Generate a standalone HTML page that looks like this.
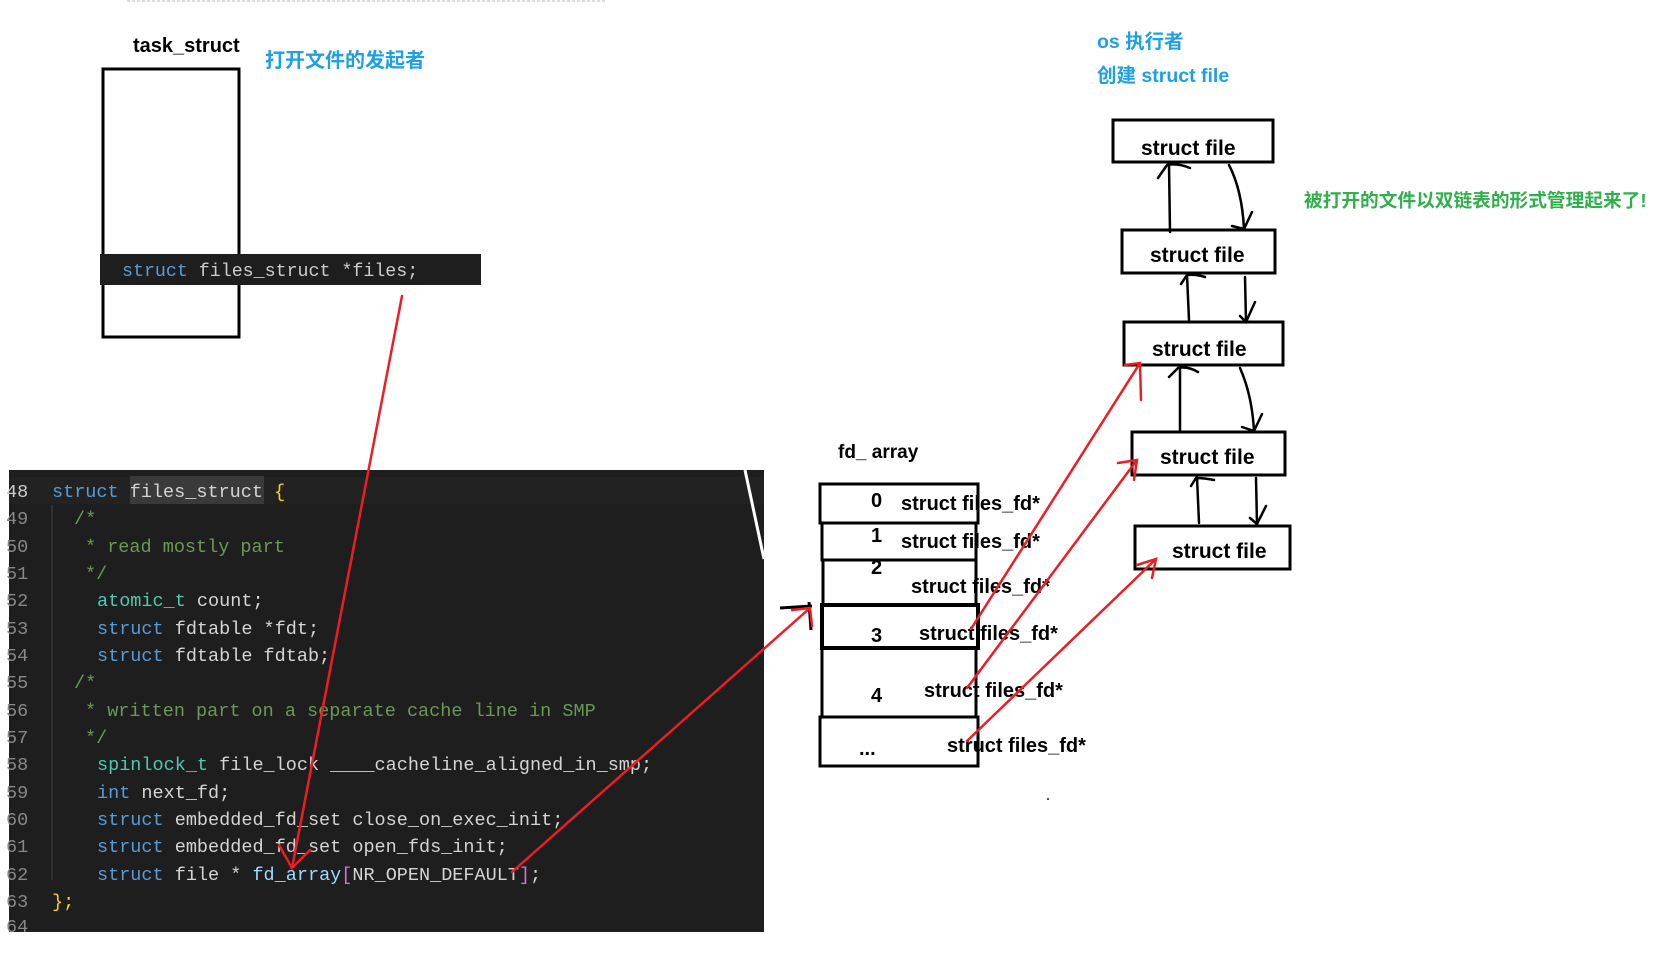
<!DOCTYPE html>
<html><head><meta charset="utf-8"><style>
html,body{margin:0;padding:0;background:#fff;}
svg{display:block;}
.mono{font-family:"Liberation Mono","DejaVu Sans Mono",monospace;}
.sans{font-family:"Liberation Sans","Noto Sans CJK SC",sans-serif;font-weight:bold;}
</style></head><body>
<svg width="1676" height="957" viewBox="0 0 1676 957" xmlns="http://www.w3.org/2000/svg">
<line x1="127" y1="1" x2="607" y2="1" stroke="#bbb" stroke-dasharray="3,2" stroke-width="1"/>
<text x="133" y="52" class="sans" font-size="20" fill="#000">task_struct</text>
<text x="265" y="67" class="sans" font-size="20" fill="#1e9fe6">打开文件的发起者</text>
<rect x="103" y="69" width="136" height="268" fill="none" stroke="#000" stroke-width="3"/>
<rect x="100" y="254" width="381" height="31" fill="#1e1e1e"/>
<text x="122" y="276" class="mono" font-size="18.3" fill="#ccc" xml:space="preserve"><tspan fill="#569cd6">struct</tspan> files_struct *files;</text>

<text x="1097" y="48" class="sans" font-size="19.5" fill="#1e9fe6">os 执行者</text>
<text x="1097" y="82" class="sans" font-size="19.5" fill="#1e9fe6">创建 struct file</text>
<text x="1304" y="207" class="sans" font-size="18.7" fill="#2fb04a">被打开的文件以双链表的形式管理起来了!</text>

<!-- code box -->
<rect x="9" y="470" width="755" height="462" fill="#1e1e1e"/>
<rect x="9" y="477" width="755" height="27" fill="#222"/>
<line x1="52" y1="505" x2="52" y2="880" stroke="#444" stroke-width="1"/>
<line x1="745" y1="470" x2="764" y2="559" stroke="#fff" stroke-width="3"/>
<g class="mono" font-size="18.5" fill="#d4d4d4" xml:space="preserve">
<text x="6" y="497" fill="#ccc">48</text>
<text x="6" y="524" fill="#888">49</text>
<text x="6" y="552" fill="#888">50</text>
<text x="6" y="579" fill="#888">51</text>
<text x="6" y="606" fill="#888">52</text>
<text x="6" y="634" fill="#888">53</text>
<text x="6" y="661" fill="#888">54</text>
<text x="6" y="688" fill="#888">55</text>
<text x="6" y="716" fill="#888">56</text>
<text x="6" y="743" fill="#888">57</text>
<text x="6" y="770" fill="#888">58</text>
<text x="6" y="798" fill="#888">59</text>
<text x="6" y="825" fill="#888">60</text>
<text x="6" y="852" fill="#888">61</text>
<text x="6" y="880" fill="#888">62</text>
<text x="6" y="907" fill="#888">63</text>
<text x="6" y="932" fill="#888">64</text>
<rect x="130" y="476" width="134" height="28" fill="#3a3a3a"/>
<text x="52" y="497"><tspan fill="#569cd6">struct</tspan> files_struct <tspan fill="#ffd700">{</tspan></text>
<text x="74" y="524" fill="#6a9955">/*</text>
<text x="85" y="552" fill="#6a9955">* read mostly part</text>
<text x="85" y="579" fill="#6a9955">*/</text>
<text x="97" y="606"><tspan fill="#4ec9b0">atomic_t</tspan> count;</text>
<text x="97" y="634"><tspan fill="#569cd6">struct</tspan> fdtable *fdt;</text>
<text x="97" y="661"><tspan fill="#569cd6">struct</tspan> fdtable fdtab;</text>
<text x="74" y="688" fill="#6a9955">/*</text>
<text x="85" y="716" fill="#6a9955">* written part on a separate cache line in SMP</text>
<text x="85" y="743" fill="#6a9955">*/</text>
<text x="97" y="770"><tspan fill="#4ec9b0">spinlock_t</tspan> file_lock ____cacheline_aligned_in_smp;</text>
<text x="97" y="798"><tspan fill="#569cd6">int</tspan> next_fd;</text>
<text x="97" y="825"><tspan fill="#569cd6">struct</tspan> embedded_fd_set close_on_exec_init;</text>
<text x="97" y="852"><tspan fill="#569cd6">struct</tspan> embedded_fd_set open_fds_init;</text>
<text x="97" y="880"><tspan fill="#569cd6">struct</tspan> file * <tspan fill="#9cdcfe">fd_array</tspan><tspan fill="#da70d6">[</tspan>NR_OPEN_DEFAULT<tspan fill="#da70d6">]</tspan>;</text>
<text x="52" y="907" fill="#ffd700">};</text>
</g>

<!-- fd_array -->
<text x="838" y="458" class="sans" font-size="19" fill="#000">fd_ array</text>
<g fill="none" stroke="#000" stroke-width="3">
<rect x="820" y="484" width="158" height="39"/>
<rect x="822" y="523" width="154" height="37"/>
<rect x="823" y="560" width="153" height="45"/>
<rect x="822" y="605" width="156" height="43" stroke-width="4"/>
<rect x="822" y="648" width="154" height="69"/>
<rect x="820" y="717" width="158" height="49"/>
<path d="M780 608 L812 606 M809 602 L811 630"/>
</g>
<g class="sans" font-size="20" fill="#000">
<text x="871" y="507">0</text>
<text x="871" y="542">1</text>
<text x="871" y="574">2</text>
<text x="871" y="642">3</text>
<text x="871" y="702">4</text>
<text x="859" y="755">...</text>
<text x="901" y="510">struct files_fd*</text>
<text x="901" y="548">struct files_fd*</text>
<text x="911" y="593">struct files_fd*</text>
<text x="919" y="640">struct files_fd*</text>
<text x="924" y="697">struct files_fd*</text>
<text x="947" y="752">struct files_fd*</text>
</g>
<text x="1046" y="800" font-size="16" fill="#000">.</text>

<!-- struct file boxes -->
<g fill="none" stroke="#000" stroke-width="3">
<rect x="1113" y="120" width="160" height="42"/>
<rect x="1122" y="230" width="153" height="43"/>
<rect x="1124" y="322" width="159" height="43"/>
<rect x="1132" y="432" width="153" height="43"/>
<rect x="1135" y="526" width="155" height="43"/>
</g>
<g class="sans" font-size="21" fill="#000">
<text x="1141" y="155">struct file</text>
<text x="1150" y="262">struct file</text>
<text x="1152" y="356">struct file</text>
<text x="1160" y="464">struct file</text>
<text x="1172" y="558">struct file</text>
</g>
<g fill="none" stroke="#000" stroke-width="2.5" stroke-linecap="round">
<path d="M1170 232 L1169 164 M1158 178 L1167 165 Q1178 163 1190 168"/>
<path d="M1229 165 Q1242 190 1244 229 M1232 226 L1244 229 L1252 212"/>
<path d="M1189 320 L1187 275 M1181 284 L1187 275 Q1195 274 1205 277"/>
<path d="M1245 277 L1246 322 M1240 316 L1246 322 L1255 302"/>
<path d="M1180 430 L1180 366 M1169 377 L1178 368 Q1188 366 1198 372"/>
<path d="M1240 368 Q1252 395 1254 431 M1242 427 L1254 431 L1262 414"/>
<path d="M1199 523 L1197 477 M1191 486 L1196 478 Q1204 478 1214 480"/>
<path d="M1256 478 L1257 524 M1250 518 L1257 524 L1266 506"/>
</g>

<!-- red arrows -->
<g fill="none" stroke="#ee1c24" stroke-width="2.5" stroke-linecap="round">
<path d="M402 296 L292 868 M279 845 L292 868 L310 850"/>
<path d="M512 872 L810 608 M792 610 L810 608 L812 626"/>
<path d="M971 629 L1140 363 M1125 365 L1140 363 L1141 400"/>
<path d="M967 688 L1137 460 M1118 463 L1137 460 L1134 480"/>
<path d="M967 741 L1156 559 M1137 565 L1156 559 L1152 578"/>
</g>
</svg>
</body></html>
